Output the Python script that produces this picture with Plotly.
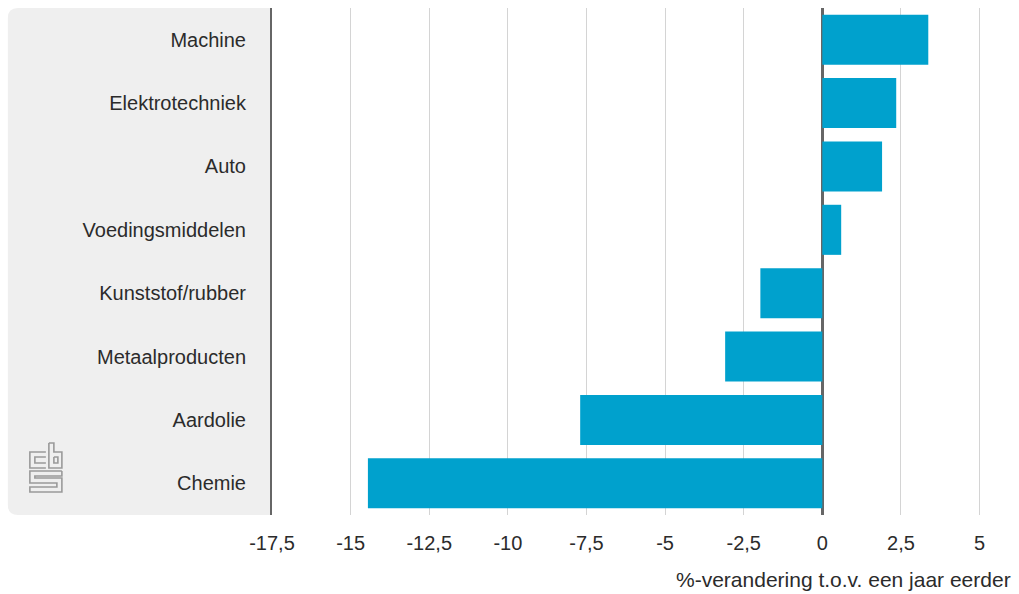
import plotly.graph_objects as go

categories = ["Machine", "Elektrotechniek", "Auto", "Voedingsmiddelen",
              "Kunststof/rubber", "Metaalproducten", "Aardolie", "Chemie"]
values = [3.37, 2.35, 1.9, 0.6, -1.97, -3.09, -7.7, -14.45]
tick_vals = [-17.5, -15, -12.5, -10, -7.5, -5, -2.5, 0, 2.5, 5]
tick_text = ["-17,5", "-15", "-12,5", "-10", "-7,5", "-5", "-2,5", "0", "2,5", "5"]
axis_title = "%-verandering t.o.v. een jaar eerder"

W, H = 1019, 594
L, R, T, B = 272, 1010.6, 8, 515

def px(x):
    return (x - L) / (R - L)

def py(y):
    return (B - y) / (B - T)

fig = go.Figure(go.Bar(
    x=values, y=categories, orientation="h",
    marker=dict(color="#00a1cd", line=dict(width=0)),
    hoverinfo="x+y",
))

shapes = []
# grey panel with rounded left corners
r = 10
x0, x1, y0, y1 = 8, 272, 8, 515
path = (f"M {px(x1)},{py(y0)} L {px(x0 + r)},{py(y0)} "
        f"Q {px(x0)},{py(y0)} {px(x0)},{py(y0 + r)} "
        f"L {px(x0)},{py(y1 - r)} Q {px(x0)},{py(y1)} {px(x0 + r)},{py(y1)} "
        f"L {px(x1)},{py(y1)} Z")
shapes.append(dict(type="path", xref="paper", yref="paper", path=path,
                   fillcolor="#efefef", line=dict(width=0), layer="below"))

# CBS logo (approximate, outlined)
logo_paths = [
    [(46, 452), (30, 452), (30, 468), (46, 468)],
    [(46, 457), (35, 457), (35, 463), (46, 463)],
    [(49, 443), (49, 468), (62, 468), (62, 452), (54, 452), (54, 443), (49, 443)],
    [(54, 457), (58, 457), (58, 463), (54, 463), (54, 457)],
    [(62, 471), (30, 471), (30, 483), (57, 483), (57, 487), (30, 487), (30, 492), (62, 492),
     (62, 478), (35, 478), (35, 476), (62, 476), (62, 471)],
]
for pts in logo_paths:
    d = "M " + " L ".join(f"{px(a)},{py(b)}" for a, b in pts)
    shapes.append(dict(type="path", xref="paper", yref="paper", path=d,
                       line=dict(color="#9a9a9a", width=1.6)))

fig.update_layout(
    width=W, height=H,
    margin=dict(l=L, r=W - R, t=T, b=H - B, pad=0),
    plot_bgcolor="white", paper_bgcolor="white",
    font=dict(family="Liberation Sans, Arial, sans-serif", size=20, color="#2b2b2b"),
    bargap=0.21,
    showlegend=False,
    shapes=shapes,
    xaxis=dict(range=[-17.5, 6], tickvals=tick_vals, ticktext=tick_text,
               showgrid=True, gridcolor="#d4d4d4", gridwidth=1,
               zeroline=True, zerolinecolor="#666666", zerolinewidth=3,
               ticks="", ticklabelstandoff=14, showline=False, fixedrange=True),
    yaxis=dict(categoryorder="array", categoryarray=categories[::-1],
               showgrid=False, zeroline=False, showline=True,
               linecolor="#666666", linewidth=2, ticks="",
               ticklabelstandoff=20, fixedrange=True),
    annotations=[dict(text=axis_title, xref="paper", yref="paper",
                      x=px(1013), y=py(579), xanchor="right", yanchor="middle",
                      showarrow=False, font=dict(size=21, color="#2b2b2b"))],
)

fig.write_html("out.html")
